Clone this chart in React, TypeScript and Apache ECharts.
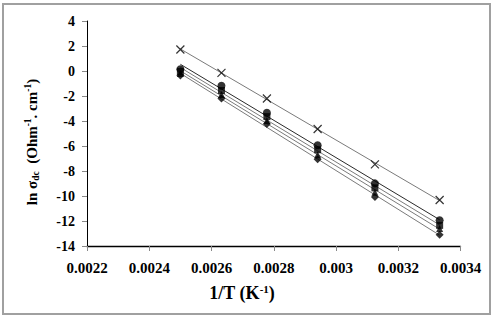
import React, { useEffect, useRef } from "react";
import * as echarts from "echarts";

const invT = [0.0025, 0.002632, 0.002778, 0.002941, 0.003125, 0.003333];
const seriesX = [1.72, -0.15, -2.2, -4.64, -7.47, -10.32];
const seriesCircle = [0.14, -1.18, -3.34, -5.94, -8.99, -11.94];
const seriesSquare = [-0.04, -1.56, -3.65, -6.3, -9.35, -12.35];
const seriesTriangle = [-0.2, -1.88, -3.95, -6.7, -9.7, -12.6];
const seriesDiamond = [-0.36, -2.2, -4.24, -7.05, -10.08, -13.1];
const xTicks = [0.0022, 0.0024, 0.0026, 0.0028, 0.003, 0.0032, 0.0034];

const FONT = "'Liberation Serif', 'Times New Roman', serif";

function trend(ys: number[]): number[][] {
  const n = invT.length;
  const mx = invT.reduce((a, b) => a + b, 0) / n;
  const my = ys.reduce((a, b) => a + b, 0) / n;
  let sxy = 0;
  let sxx = 0;
  for (let i = 0; i < n; i++) {
    sxy += (invT[i] - mx) * (ys[i] - my);
    sxx += (invT[i] - mx) * (invT[i] - mx);
  }
  const b = sxy / sxx;
  const a = my - b * mx;
  const x0 = Math.min(...invT);
  const x1 = Math.max(...invT);
  return [
    [x0, a + b * x0],
    [x1, a + b * x1],
  ];
}

export default function App() {
  const ref = useRef<HTMLDivElement>(null);
  useEffect(() => {
    if (!ref.current) return;
    const chart = echarts.init(ref.current, undefined, { renderer: "svg" });
    const groups = [
      { name: "x", data: seriesX, symbol: "path://M0,0L10,10M10,0L0,10", size: 8, line: "#7a7a7a" },
      { name: "circle", data: seriesCircle, symbol: "circle", size: 8, line: "#2a2a2a" },
      { name: "square", data: seriesSquare, symbol: "rect", size: 7, line: "#7a7a7a" },
      { name: "triangle", data: seriesTriangle, symbol: "triangle", size: 7, line: "#7a7a7a" },
      { name: "diamond", data: seriesDiamond, symbol: "diamond", size: 8, line: "#7a7a7a" },
    ];
    const series: any[] = [];
    groups.forEach((g) => {
      series.push({
        name: g.name + "-trend",
        type: "line",
        data: trend(g.data),
        showSymbol: false,
        symbol: "none",
        lineStyle: { color: g.line, width: 1 },
        z: 2,
      });
    });
    groups.forEach((g) => {
      series.push({
        name: g.name,
        type: "scatter",
        data: invT.map((x, i) => [x, g.data[i]]),
        symbol: g.symbol,
        symbolSize: g.size,
        itemStyle:
          g.name === "x"
            ? { color: "none", borderColor: "#000", borderWidth: 1.2 }
            : { color: "#000" },
        z: 3,
      });
    });
    chart.setOption({
      animation: false,
      backgroundColor: "#fff",
      grid: { left: 87, right: 33.5, top: 21, bottom: 72 },
      xAxis: {
        type: "value",
        min: 0.0022,
        max: 0.0034,
        interval: 0.0002,
        axisLine: { onZero: false, lineStyle: { color: "#000", width: 1.3 } },
        axisTick: { show: true, length: 5, lineStyle: { color: "#888" } },
        splitLine: { show: false },
        axisLabel: {
          color: "#000",
          fontFamily: FONT,
          fontWeight: "bold",
          fontSize: 15,
          margin: 14,
          formatter: (v: number) => {
            const t = xTicks.find((k) => Math.abs(k - v) < 1e-9);
            return t !== undefined ? String(Number(t.toFixed(4))) : "";
          },
        },
      },
      yAxis: {
        type: "value",
        min: -14,
        max: 4,
        interval: 2,
        axisLine: { show: true, onZero: false, lineStyle: { color: "#000", width: 1 } },
        axisTick: { show: true, length: 5, lineStyle: { color: "#888" } },
        splitLine: { show: false },
        axisLabel: {
          color: "#000",
          fontFamily: FONT,
          fontWeight: "bold",
          fontSize: 14,
          margin: 12,
        },
      },
      graphic: [
        {
          type: "rect",
          shape: { x: 3, y: 4, width: 487, height: 310 },
          style: { fill: "none", stroke: "#a0a0a0", lineWidth: 2 },
          z: 0,
        },
        {
          type: "text",
          x: 242,
          y: 293,
          style: {
            text: "{a|1/T (K}{s|-1}{a|)}",
            align: "center",
            verticalAlign: "middle",
            rich: {
              a: { fontFamily: FONT, fontWeight: "bold", fontSize: 18, fill: "#000" },
              s: { fontFamily: FONT, fontWeight: "bold", fontSize: 11, fill: "#000", padding: [0, 0, 9, 0] },
            },
          },
        },
        {
          type: "text",
          x: 32,
          y: 142,
          rotation: Math.PI / 2,
          style: {
            text: "{a|ln σ}{b|dc}{a|  (Ohm}{s|-1}{a|. cm}{s|-1}{a|)}",
            align: "center",
            verticalAlign: "middle",
            rich: {
              a: { fontFamily: FONT, fontWeight: "bold", fontSize: 15, fill: "#000" },
              b: { fontFamily: FONT, fontWeight: "bold", fontSize: 9.5, fill: "#000", padding: [8, 0, 0, 0] },
              s: { fontFamily: FONT, fontWeight: "bold", fontSize: 9.5, fill: "#000", padding: [0, 0, 8, 0] },
            },
          },
        },
      ],
      series,
    });
    return () => chart.dispose();
  }, []);
  return (
    <div
      ref={ref}
      style={{ position: "fixed", left: 0, top: 0, width: 494, height: 318, background: "#fff" }}
    />
  );
}
